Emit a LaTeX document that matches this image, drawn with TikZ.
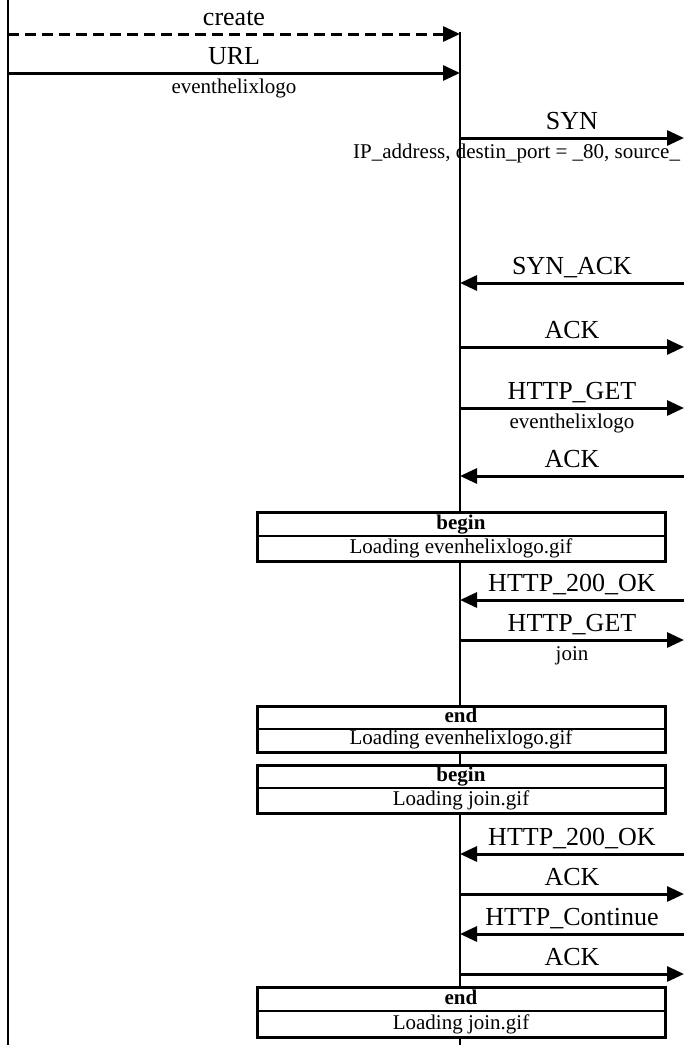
\documentclass[tikz,border=0pt]{standalone}
\usepackage{fontspec}
\setmainfont{Liberation Serif}
\usetikzlibrary{arrows.meta}
\tikzset{
  lifeline/.style={line width=1.1pt, black},
  msg/.style={line width=3pt, -{Triangle[length=17pt,width=15pt]}},
  msgdash/.style={msg, dash pattern=on 11pt off 6pt},
  lab/.style={font=\fontsize{26}{30}\selectfont, inner sep=0pt, anchor=base, yshift=9pt},
  sublab/.style={font=\fontsize{21}{25}\selectfont, inner sep=0pt, anchor=base, yshift=-20pt},
  boxfill/.style={fill=white},
  boxframe/.style={line width=3pt},
  divline/.style={line width=1.3pt},
  boxhead/.style={font=\fontsize{21}{25}\selectfont\bfseries, inner sep=0pt, anchor=base},
  boxtext/.style={font=\fontsize{21}{25}\selectfont, inner sep=0pt, anchor=base},
}
\begin{document}
\begin{tikzpicture}[x=1pt,y=-1pt]
\useasboundingbox (0,0) rectangle (684,1045);
% lifelines
\coordinate (Ltop) at (8,0);
\coordinate (Lbot) at (8,1045);
\coordinate (Mtop) at (460,32);
\coordinate (Mbot) at (460,1045);
\draw[lifeline] (Ltop) -- (Lbot);
\draw[lifeline] (Mtop) -- (Mbot);
% message end points
\foreach \n/\y in {1/34,2/73} {
  \coordinate (L\n) at (8,\y);
  \coordinate (M\n) at (460,\y);
}
\foreach \n/\y in {3/138,4/283,5/347,6/408,7/476,9/600,10/640,13/854,14/894,15/934,16/974} {
  \coordinate (M\n) at (460,\y);
  \coordinate (R\n) at (684,\y);
}
% messages
\draw[msgdash] (L1) -- node[lab] (t1) {create} (M1);
\draw[msg] (L2) -- node[lab] (t2) {URL} node[sublab] (s2) {eventhelixlogo} (M2);
\draw[msg] (M3) -- node[lab] (t3) {SYN} (R3);
\node[font=\fontsize{21}{25}\selectfont, inner sep=0pt, anchor=base west] (s3) at (353,158) {IP\_address, destin\_port = \_80, source\_};
\draw[msg] (R4) -- node[lab] (t4) {SYN\_ACK} (M4);
\draw[msg] (M5) -- node[lab] (t5) {ACK} (R5);
\draw[msg] (M6) -- node[lab] (t6) {HTTP\_GET} node[sublab] (s6) {eventhelixlogo} (R6);
\draw[msg] (R7) -- node[lab] (t7) {ACK} (M7);
\draw[msg] (R9) -- node[lab] (t9) {HTTP\_200\_OK} (M9);
\draw[msg] (M10) -- node[lab] (t10) {HTTP\_GET} node[sublab] (s10) {join} (R10);
\draw[msg] (R13) -- node[lab] (t13) {HTTP\_200\_OK} (M13);
\draw[msg] (M14) -- node[lab] (t14) {ACK} (R14);
\draw[msg] (R15) -- node[lab] (t15) {HTTP\_Continue} (M15);
\draw[msg] (M16) -- node[lab] (t16) {ACK} (R16);
% action boxes: name/top/divider/bottom/head/text
\foreach \b/\ya/\yd/\yb/\hd/\tx in {
  b8/512/536/561/begin/Loading evenhelixlogo.gif,
  b11/706/729/752/end/Loading evenhelixlogo.gif,
  b12/765/788/813/begin/Loading join.gif,
  b17/987/1011/1037/end/Loading join.gif} {
  \fill[boxfill] (257,\ya) rectangle (665,\yb);
  \draw[boxframe] (257,\ya) rectangle (665,\yb);
  \draw[divline] (257,\yd) -- (665,\yd);
  \node[boxhead] (\b h) at (461,\yd-7) {\hd};
  \node[boxtext] (\b t) at (461,\yb-8) {\tx};
}
\end{tikzpicture}
\end{document}
